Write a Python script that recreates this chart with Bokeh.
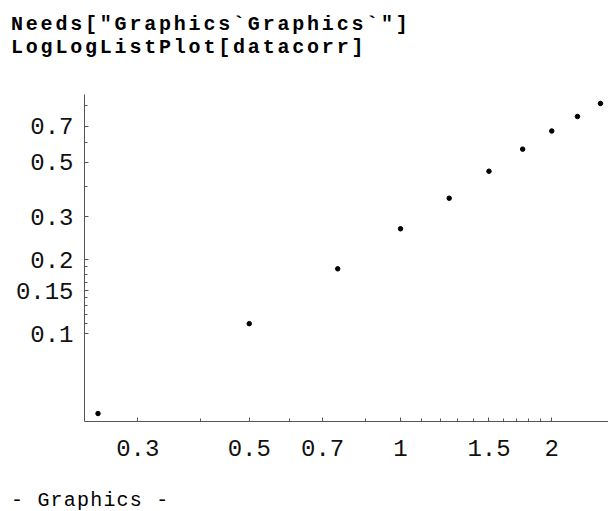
from bokeh.plotting import figure
from bokeh.models import Range1d, FixedTicker, CustomJSTickFormatter, Div
from bokeh.layouts import column
from bokeh.embed import file_html
from bokeh.resources import INLINE

# data
x_vals = [0.25, 0.5, 0.75, 1.0, 1.25, 1.5, 1.75, 2.0, 2.25, 2.5]
y_vals = [0.0473, 0.110, 0.184, 0.268, 0.357, 0.46, 0.566, 0.671, 0.769, 0.869]

# axis ticks
x_ticks = [0.3, 0.5, 0.7, 1, 1.5, 2]
x_minor = [0.4, 0.6, 0.85, 1.1, 1.2, 1.3, 1.4, 1.6, 1.7, 1.8, 1.9]
y_ticks = [0.1, 0.15, 0.2, 0.3, 0.5, 0.7]
y_minor = [0.11, 0.12, 0.13, 0.14, 0.1625, 0.175, 0.1875, 0.4, 0.6, 0.85]

# texts
code_lines = ['Needs["Graphics`Graphics`"]', 'LogLogListPlot[datacorr]']
footer = "- Graphics -"

MONO = "Liberation Mono"

top = Div(text="<br>".join(code_lines), width=608, height=80, margin=0,
          styles={"font-family": MONO, "font-size": "20px", "font-weight": "bold",
                  "letter-spacing": "2.8px", "line-height": "23.3px",
                  "padding-top": "13px", "padding-left": "11px",
                  "white-space": "pre", "color": "black", "box-sizing": "border-box"})

p = figure(width=608, height=398, x_axis_type="log", y_axis_type="log",
           x_range=Range1d(0.235, 2.594), y_range=Range1d(0.04389, 0.9452),
           toolbar_location=None, output_backend="svg",
           min_border_left=84, min_border_right=0, min_border_top=14, min_border_bottom=57)
p.outline_line_color = None
p.background_fill_color = "white"
p.border_fill_color = "white"
p.xgrid.visible = False
p.ygrid.visible = False

fmt = CustomJSTickFormatter(code="return tick.toString()")
for ax, ticks, minor in ((p.xaxis[0], x_ticks, x_minor), (p.yaxis[0], y_ticks, y_minor)):
    ax.ticker = FixedTicker(ticks=ticks, minor_ticks=minor)
    ax.formatter = fmt
    ax.axis_line_color = "#555555"
    ax.axis_line_width = 1
    ax.major_tick_line_color = "#555555"
    ax.minor_tick_line_color = "#555555"
    ax.major_tick_in = 4
    ax.major_tick_out = 0
    ax.minor_tick_in = 3
    ax.minor_tick_out = 0
    ax.major_label_text_font = MONO
    ax.major_label_text_font_size = "24px"
    ax.major_label_text_color = "#111111"

p.xaxis[0].major_label_standoff = 18
p.yaxis[0].major_label_standoff = 11

p.scatter(x_vals, y_vals, size=4.5, color="black", line_color="black")

bottom = Div(text=footer, width=608, height=33, margin=0,
             styles={"font-family": MONO, "font-size": "20px", "letter-spacing": "1.2px",
                     "line-height": "22px", "padding-top": "12px", "padding-left": "11px",
                     "white-space": "pre", "color": "black", "box-sizing": "border-box"})

layout = column(top, p, bottom, spacing=0)

open("out.html", "w").write(file_html(layout, INLINE))
